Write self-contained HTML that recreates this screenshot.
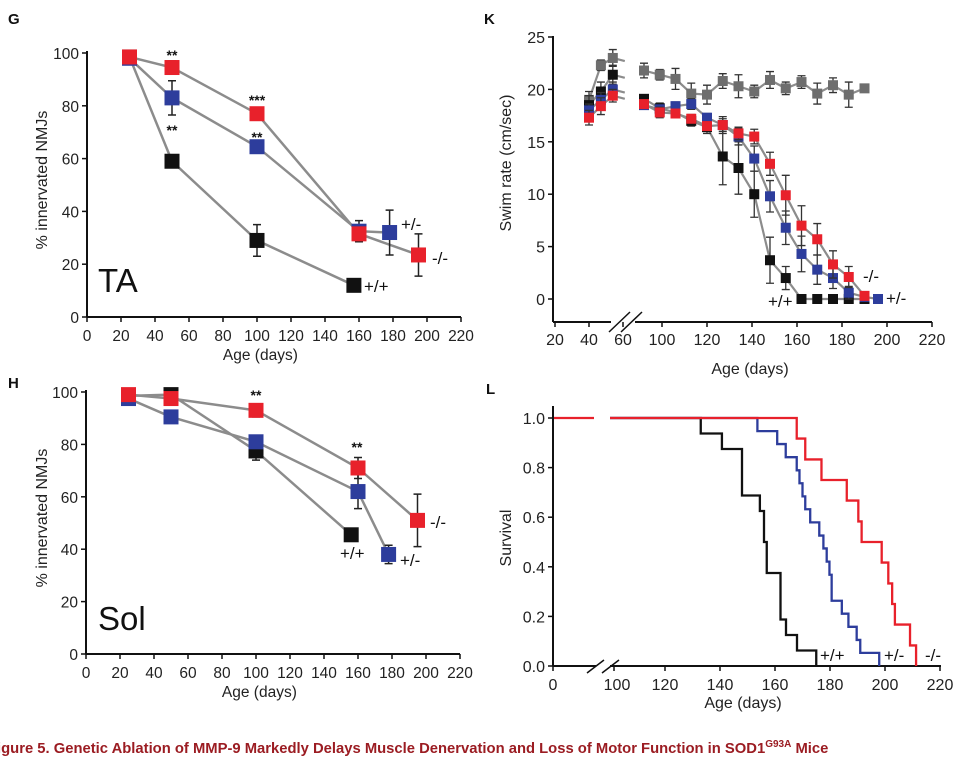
<!DOCTYPE html>
<html><head><meta charset="utf-8"><style>
html,body{margin:0;padding:0;background:#fff;}
svg{display:block;font-family:"Liberation Sans",Arial,sans-serif;}
</style></head><body>
<svg id="fig" width="975" height="763" viewBox="0 0 975 763" xmlns="http://www.w3.org/2000/svg"></svg>
<script>
// ---------- Panel G (TA) data ----------
const gDays = [25, 50, 100, 157];
const gBlack = [98.5, 59, 29, 12];
const gBlackErr = [0, 0, 6, 0];
const gBlueDays = [25, 50, 100, 160, 178];
const gBlue = [98, 83, 64.5, 32.5, 32];
const gBlueErr = [0, 6.5, 0, 4, 8.5];
const gRedDays = [25, 50, 100, 160, 195];
const gRed = [98.5, 94.5, 77, 31.5, 23.5];
const gRedErr = [0, 2.5, 0, 2, 8];
// ---------- Panel H (Sol) data ----------
const hBlackDays = [25, 50, 100, 156];
const hBlack = [98.5, 99, 77.5, 45.5];
const hBlackErr = [0, 0, 3.5, 0];
const hBlueDays = [25, 50, 100, 160, 178];
const hBlue = [97.5, 90.5, 81, 62, 38];
const hBlueErr = [0, 0, 2.5, 6.5, 3.5];
const hRedDays = [25, 50, 100, 160, 195];
const hRed = [99, 97.5, 93, 71, 51];
const hRedErr = [0, 0, 2.5, 4, 10];
// ---------- Panel K (swim) data ----------
const kEarlyDays = [40, 47, 54];
const kLateDays = [92, 99, 106, 113, 120, 127, 134, 141, 148, 155, 162, 169, 176, 183, 190];
const kGrayEarly = [19.0, 22.3, 23.0];
const kGrayEarlyErr = [0.8, 0.5, 0.8];
const kGrayLate = [21.8, 21.4, 21.0, 19.6, 19.5, 20.8, 20.3, 19.8, 20.9, 20.1, 20.7, 19.6, 20.4, 19.5, 20.1];
const kGrayLateErr = [0.7, 0.5, 1.0, 1.0, 0.9, 0.7, 1.1, 0.6, 0.8, 0.6, 0.6, 1.0, 0.7, 1.2, 0];
const kBlackEarly = [18.5, 19.8, 21.4];
const kBlackLate = [19.1, 18.2, 17.8, 17.0, 16.4, 13.6, 12.5, 10.0, 3.7, 2.0, 0, 0, 0, 0, 0];
const kBlackLateErr = [0.4, 0.5, 0.4, 0.5, 0.6, 2.7, 2.5, 2.2, 2.2, 1.1, 0, 0, 0, 0, 0];
const kBlueEarly = [18.0, 19.0, 20.0];
const kBlueLate = [18.5, 18.1, 18.4, 18.6, 17.3, 16.6, 15.5, 13.4, 9.8, 6.8, 4.3, 2.8, 2.0, 0.6, 0.2];
const kBlueLateErr = [0.3, 0.4, 0.4, 0.5, 0.4, 0.6, 0.8, 1.2, 1.5, 1.6, 1.7, 1.4, 1.0, 0.6, 0];
const kRedEarly = [17.3, 18.4, 19.4];
const kRedLate = [18.6, 17.8, 17.7, 17.2, 16.5, 16.6, 15.8, 15.5, 12.9, 9.9, 7.0, 5.7, 3.3, 2.1, 0.3];
const kRedLateErr = [0.3, 0.5, 0.4, 0.4, 0.4, 0.8, 0.6, 0.7, 1.1, 1.9, 1.9, 1.5, 1.3, 1.0, 0];
const kXTicks = [20, 40, 60, 100, 120, 140, 160, 180, 200, 220];
const kYTicks = [0, 5, 10, 15, 20, 25];
// ---------- Panel L (survival) data ----------
const lBlackTimes = [133, 140.7, 148, 154.5, 156, 157, 162, 164, 168, 175];
const lBlackLevels = [0.9375, 0.875, 0.6875, 0.625, 0.5, 0.375, 0.1875, 0.125, 0.0625, 0];
const lBlueTimes = [153.6, 160.8, 163.9, 167.9, 168.9, 170, 171, 172.8, 176.1, 177.6, 178.8, 179.8, 180.6, 184.3, 186.7, 189.7, 191, 197.9];
const lBlueLevels = [0.947, 0.895, 0.842, 0.789, 0.737, 0.684, 0.632, 0.579, 0.526, 0.474, 0.421, 0.368, 0.263, 0.211, 0.158, 0.105, 0.053, 0];
const lRedTimes = [167.9, 171, 176.9, 186.1, 190.3, 191.5, 198.8, 201.2, 202.6, 203.6, 209.1, 211.3];
const lRedLevels = [0.917, 0.833, 0.75, 0.667, 0.583, 0.5, 0.417, 0.333, 0.25, 0.167, 0.083, 0];
const lXTicks = [100, 120, 140, 160, 180, 200, 220];
const lYTicks = [0, 0.2, 0.4, 0.6, 0.8, 1.0];
const ghXTicks = [0, 20, 40, 60, 80, 100, 120, 140, 160, 180, 200, 220];
const ghYTicks = [0, 20, 40, 60, 80, 100];

const NS = 'http://www.w3.org/2000/svg';
const svg = document.getElementById('fig');
const RED = '#e8212b', BLUE = '#2d3d9c', BLACK = '#111', GRAY = '#6e6e6e', LINE = '#8c8c8c';
function mk(tag, attrs, parent) {
  const e = document.createElementNS(NS, tag);
  for (const k in attrs) e.setAttribute(k, attrs[k]);
  (parent || svg).appendChild(e);
  return e;
}
function txt(s, x, y, size, extra, parent) {
  const a = Object.assign({x: x, y: y, 'font-size': size, fill: '#111'}, extra || {});
  const t = mk('text', a, parent);
  t.textContent = s;
  return t;
}
function group(name) {
  const g = mk('g', {});
  
  
  return g;
}

function nmjPanel(pname, letter, letterY, x0, yTop, yBot, sub, subY, series, stars, labels) {
  const g = group(pname);
  const sx = d => x0 + d * 1.7;
  const sy = v => yBot - v * (yBot - yTop) / 100;
  const lt = txt(letter, 8, letterY, 15, {'font-weight': 'bold'}, g);
  
  
  mk('line', {x1: x0, y1: yTop - 2, x2: x0, y2: yBot, stroke: '#111', 'stroke-width': 2}, g);
  mk('line', {x1: x0, y1: yBot, x2: sx(220), y2: yBot, stroke: '#111', 'stroke-width': 2}, g);
  ghYTicks.forEach(v => {
    mk('line', {x1: x0 - 5, y1: sy(v), x2: x0, y2: sy(v), stroke: '#111', 'stroke-width': 1.5}, g);
    const t = txt(String(v), x0 - 8, sy(v) + 6, 15.5, {'text-anchor': 'end', fill: '#222'}, g);
    
    
  });
  ghXTicks.forEach(v => {
    mk('line', {x1: sx(v), y1: yBot, x2: sx(v), y2: yBot + 5, stroke: '#111', 'stroke-width': 1.5}, g);
    const t = txt(String(v), sx(v), yBot + 24, 15.5, {'text-anchor': 'middle', fill: '#222'}, g);
    
    
  });
  const xt = txt('Age (days)', sx(102), yBot + 43, 15.5, {'text-anchor': 'middle', fill: '#222'}, g);
  
  
  const cy = (yTop + yBot) / 2 - 5;
  const yt = txt('% innervated NMJs', 0, 0, 16, {'text-anchor': 'middle', transform: `translate(47,${cy}) rotate(-90)`, fill: '#222'}, g);
  
  
  const st = txt(sub, 98, subY, 33, {fill: '#111'}, g);
  
  
  series.forEach(s => {
    const pts = s.days.map((d, i) => sx(d) + ',' + sy(s.vals[i])).join(' ');
    const pl = mk('polyline', {points: pts, fill: 'none', stroke: LINE, 'stroke-width': 2.5}, g);
    
    
  });
  series.forEach(s => {
    s.days.forEach((d, i) => {
      const e = s.err[i];
      if (e > 0) {
        const x = sx(d);
        mk('path', {d: `M${x},${sy(s.vals[i] + e)}V${sy(s.vals[i] - e)}M${x - 4},${sy(s.vals[i] + e)}h8M${x - 4},${sy(s.vals[i] - e)}h8`, stroke: '#222', 'stroke-width': 1.5, fill: 'none'}, g);
      }
      const r = mk('rect', {x: sx(d) - 7.5, y: sy(s.vals[i]) - 7.5, width: 15, height: 15, fill: s.color}, g);
      
      
    });
  });
  stars.forEach(s => {
    const t = txt(s[0], s[1], s[2], 14, {'text-anchor': 'middle', 'font-weight': 'bold'}, g);
    
    
  });
  labels.forEach(s => {
    const t = txt(s[0], s[1], s[2], 17, {}, g);
    
    
  });
}

nmjPanel('panel-g-ta', 'G', 24, 87, 53, 317, 'TA', 292, [
  {name: 'wt', days: gDays, vals: gBlack, err: gBlackErr, color: BLACK},
  {name: 'het', days: gBlueDays, vals: gBlue, err: gBlueErr, color: BLUE},
  {name: 'ko', days: gRedDays, vals: gRed, err: gRedErr, color: RED}
], [['**', 172, 60], ['***', 257, 105], ['**', 172, 135], ['**', 257, 142]],
   [['+/-', 401, 230], ['-/-', 432, 264], ['+/+', 364, 292]]);

nmjPanel('panel-h-sol', 'H', 388, 86, 392, 654, 'Sol', 630, [
  {name: 'wt', days: hBlackDays, vals: hBlack, err: hBlackErr, color: BLACK},
  {name: 'het', days: hBlueDays, vals: hBlue, err: hBlueErr, color: BLUE},
  {name: 'ko', days: hRedDays, vals: hRed, err: hRedErr, color: RED}
], [['**', 256, 400], ['**', 357, 452]],
   [['-/-', 430, 528], ['+/-', 400, 566], ['+/+', 340, 559]]);

(function () {
  const g = group('panel-k-swim-rate');
  const sx = d => d < 80 ? 555 + (d - 20) * 1.7 : 662 + (d - 100) * 2.25;
  const sy = v => 299 - v * 10.48;
  const lt = txt('K', 484, 24, 15, {'font-weight': 'bold'}, g);
  
  
  mk('line', {x1: 553, y1: 36, x2: 553, y2: 322, stroke: '#111', 'stroke-width': 2}, g);
  mk('line', {x1: 553, y1: 322, x2: 932, y2: 322, stroke: '#111', 'stroke-width': 2}, g);
  mk('rect', {x: 611, y: 314, width: 24, height: 16, fill: '#fff'}, g);
  mk('path', {d: 'M609,332L630,312M621,332L642,312', stroke: '#111', 'stroke-width': 1.5, fill: 'none'}, g);
  kYTicks.forEach(v => {
    mk('line', {x1: 548, y1: sy(v), x2: 553, y2: sy(v), stroke: '#111', 'stroke-width': 1.5}, g);
    const t = txt(String(v), 545, sy(v) + 6, 16, {'text-anchor': 'end', fill: '#222'}, g);
    
    
  });
  kXTicks.forEach(v => {
    mk('line', {x1: sx(v), y1: 322, x2: sx(v), y2: 327, stroke: '#111', 'stroke-width': 1.5}, g);
    const t = txt(String(v), sx(v), 345, 16, {'text-anchor': 'middle', fill: '#222'}, g);
    
    
  });
  const xt = txt('Age (days)', 750, 374, 16, {'text-anchor': 'middle', fill: '#222'}, g);
  
  
  const yt = txt('Swim rate (cm/sec)', 0, 0, 16, {'text-anchor': 'middle', transform: 'translate(511,163) rotate(-90)', fill: '#222'}, g);
  
  
  const series = [
    {name: 'wildtype-control', color: GRAY, early: kGrayEarly, late: kGrayLate, eErr: kGrayEarlyErr, lErr: kGrayLateErr},
    {name: 'wt', color: BLACK, early: kBlackEarly, late: kBlackLate, eErr: [0.9, 0.9, 0.9], lErr: kBlackLateErr},
    {name: 'het', color: BLUE, early: kBlueEarly, late: kBlueLate, eErr: [0.6, 0.7, 0.7], lErr: kBlueLateErr},
    {name: 'ko', color: RED, early: kRedEarly, late: kRedLate, eErr: [0.7, 0.8, 0.6], lErr: kRedLateErr}
  ];
  series.forEach(s => {
    const e = kEarlyDays.map((d, i) => sx(d) + ',' + sy(s.early[i])).join(' ') + ' ' + (sx(54) + 12) + ',' + sy(s.early[2] - 0.3);
    const p1 = mk('polyline', {points: e, fill: 'none', stroke: LINE, 'stroke-width': 2.2}, g);
    
    
    const days = kLateDays.slice();
    const vals = s.late.slice();
    if (s.name === 'het') { days.push(196); vals.push(0); }
    const l = days.map((d, i) => sx(d) + ',' + sy(vals[i])).join(' ');
    const p2 = mk('polyline', {points: l, fill: 'none', stroke: LINE, 'stroke-width': 2.2}, g);
    
    
  });
  series.forEach(s => {
    const draw = (d, v, e) => {
      const x = sx(d);
      if (e > 0) mk('path', {d: `M${x},${sy(v + e)}V${sy(v - e)}M${x - 4},${sy(v + e)}h8M${x - 4},${sy(v - e)}h8`, stroke: '#333', 'stroke-width': 1.3, fill: 'none'}, g);
      const r = mk('rect', {x: x - 5, y: sy(v) - 5, width: 10, height: 10, fill: s.color}, g);
      
      
    };
    kEarlyDays.forEach((d, i) => draw(d, s.early[i], s.eErr[i]));
    kLateDays.forEach((d, i) => draw(d, s.late[i], s.lErr[i]));
    if (s.name === 'het') draw(196, 0, 0);
  });
  [['-/-', 863, 282], ['+/-', 886, 304], ['+/+', 768, 307]].forEach(s => {
    const t = txt(s[0], s[1], s[2], 17, {}, g);
    
    
  });
})();

(function () {
  const g = group('panel-l-survival');
  const sx = d => d < 50 ? 553 + d : 665 + (d - 120) * 2.75;
  const sy = v => 666 - v * 248;
  const lt = txt('L', 486, 394, 15, {'font-weight': 'bold'}, g);
  
  
  mk('line', {x1: 553, y1: 406, x2: 553, y2: 666, stroke: '#111', 'stroke-width': 2}, g);
  mk('line', {x1: 553, y1: 666, x2: 941, y2: 666, stroke: '#111', 'stroke-width': 2}, g);
  mk('rect', {x: 596, y: 658, width: 14, height: 14, fill: '#fff'}, g);
  mk('path', {d: 'M587,673L604,660M602,673L619,660', stroke: '#111', 'stroke-width': 1.5, fill: 'none'}, g);
  lYTicks.forEach(v => {
    mk('line', {x1: 548, y1: sy(v), x2: 553, y2: sy(v), stroke: '#111', 'stroke-width': 1.5}, g);
    const t = txt(v.toFixed(1), 545, sy(v) + 6, 16, {'text-anchor': 'end', fill: '#222'}, g);
    
    
  });
  mk('line', {x1: 553, y1: 666, x2: 553, y2: 671, stroke: '#111', 'stroke-width': 1.5}, g);
  const t0 = txt('0', 553, 690, 16, {'text-anchor': 'middle', fill: '#222'}, g);
  
  
  lXTicks.forEach(v => {
    const x = v === 100 ? 614 : sx(v);
    mk('line', {x1: x, y1: 666, x2: x, y2: 671, stroke: '#111', 'stroke-width': 1.5}, g);
    const t = txt(String(v), x + (v === 100 ? 3 : 0), 690, 16, {'text-anchor': 'middle', fill: '#222'}, g);
    
    
  });
  const xt = txt('Age (days)', 743, 708, 16, {'text-anchor': 'middle', fill: '#222'}, g);
  
  
  const yt = txt('Survival', 0, 0, 16, {'text-anchor': 'middle', transform: 'translate(511,538) rotate(-90)', fill: '#222'}, g);
  
  
  const curve = (times, levels, color, name) => {
    let d = `M610,${sy(1)}`;
    times.forEach((t, i) => { d += `H${sx(t)}V${sy(levels[i])}`; });
    const p = mk('path', {d: d, fill: 'none', stroke: color, 'stroke-width': 2.3}, g);
    
    
  };
  curve(lBlackTimes, lBlackLevels, BLACK, 'wt');
  curve(lBlueTimes, lBlueLevels, BLUE, 'het');
  curve(lRedTimes, lRedLevels, RED, 'ko');
  const pre = mk('line', {x1: 554, y1: sy(1), x2: 594, y2: sy(1), stroke: RED, 'stroke-width': 2.3}, g);
  
  
  [['+/+', 820, 661], ['+/-', 884, 661], ['-/-', 925, 661]].forEach(s => {
    const t = txt(s[0], s[1], s[2], 17, {}, g);
    
    
  });
})();

const cap = txt('', -3, 753, 14.8, {'font-weight': 'bold', fill: '#9b1c22'});


cap.innerHTML = 'igure 5.  Genetic Ablation of MMP-9 Markedly Delays Muscle Denervation and Loss of Motor Function in SOD1<tspan font-size="10" dy="-6">G93A</tspan><tspan dy="6"> Mice</tspan>';
</script>
</body></html>
